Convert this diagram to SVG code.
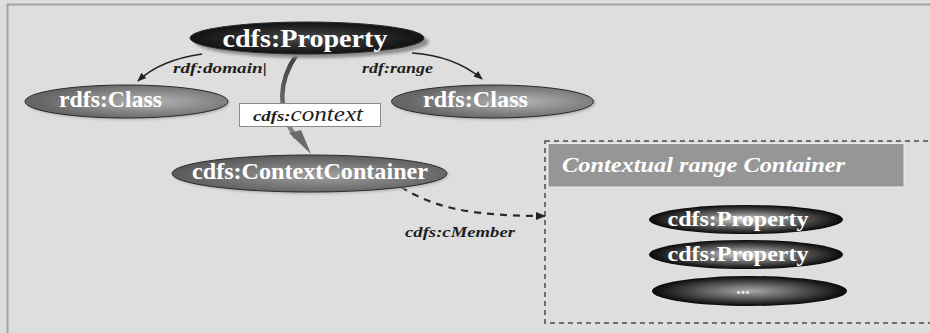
<svg xmlns="http://www.w3.org/2000/svg" width="930" height="333" viewBox="0 0 930 333" font-family="Liberation Serif, Times New Roman, serif">
  <style>
    .lbl { font-style: italic; font-weight: bold; fill: #1e1e1e; }
    .node-txt { font-weight: bold; fill: #ffffff; text-anchor: middle; }
    .edge { fill: none; stroke: #222; stroke-width: 1.6; }
    .outline { stroke: #2a2a2a; stroke-width: 1; }
  </style>
  <defs>
    <radialGradient id="gDark" cx="50%" cy="50%" r="55%">
      <stop offset="0" stop-color="#4a4a4a"/>
      <stop offset="1" stop-color="#0c0c0c"/>
    </radialGradient>
    <radialGradient id="gGray" cx="62%" cy="50%" r="55%">
      <stop offset="0" stop-color="#b4b4b4"/>
      <stop offset="1" stop-color="#666666"/>
    </radialGradient>
    <radialGradient id="gCC" cx="55%" cy="55%" r="55%">
      <stop offset="0" stop-color="#a0a0a0"/>
      <stop offset="1" stop-color="#5a5a5a"/>
    </radialGradient>
    <radialGradient id="gItem" cx="50%" cy="50%" r="50%">
      <stop offset="0" stop-color="#d4d4d4"/>
      <stop offset="0.5" stop-color="#6a6a6a"/>
      <stop offset="1" stop-color="#080808"/>
    </radialGradient>
    <radialGradient id="gItemDim" cx="50%" cy="50%" r="50%">
      <stop offset="0" stop-color="#a8a8a8"/>
      <stop offset="0.5" stop-color="#5a5a5a"/>
      <stop offset="1" stop-color="#080808"/>
    </radialGradient>
    <linearGradient id="gCtx" x1="0" y1="0" x2="0" y2="1">
      <stop offset="0" stop-color="#3c3c3c"/>
      <stop offset="1" stop-color="#8a8a8a"/>
    </linearGradient>
    <marker id="arrow" viewBox="0 0 10 10" refX="9" refY="5" markerWidth="9" markerHeight="9" markerUnits="userSpaceOnUse" orient="auto">
      <path d="M0,1 L10,5 L0,9 Z" fill="#222"/>
    </marker>
    <marker id="arrowWide" viewBox="0 0 10 10" refX="9" refY="5" markerWidth="10" markerHeight="10" markerUnits="userSpaceOnUse" orient="auto">
      <path d="M0,1 L10,5 L0,9 Z" fill="#222"/>
    </marker>
    <filter id="soft" x="-10%" y="-30%" width="120%" height="160%">
      <feGaussianBlur stdDeviation="1.5"/>
    </filter>
  </defs>

  <!-- canvas and frame -->
  <rect x="0" y="0" width="930" height="333" fill="#dedede"/>
  <path d="M7.5,333 V4.5 H930" fill="none" stroke="#a3a3a3" stroke-width="2"/>

  <!-- contextual range container frame -->
  <g id="range-container">
    <rect x="545" y="141" width="400" height="182" fill="none" stroke="#4a4a4a" stroke-width="1.5" stroke-dasharray="5,4"/>
    <rect x="548" y="143.5" width="356" height="43.5" fill="#969696" stroke="#ececec" stroke-width="1"/>
    <text x="562" y="172" font-style="italic" font-weight="bold" font-size="22" fill="#ffffff" textLength="283" lengthAdjust="spacingAndGlyphs">Contextual range Container</text>
  </g>

  <!-- connectors -->
  <g id="connectors">
    <path class="edge" d="M202,54 Q160,60 138,81" marker-end="url(#arrow)"/>
    <path class="edge" d="M412,53 Q455,56 482,79" marker-end="url(#arrow)"/>
    <path d="M297,54 Q268,96 296,138" fill="none" stroke="url(#gCtx)" stroke-width="4.5"/>
    <path d="M289,133 L311,154 L301,130 Z" fill="#6a6a6a"/>
    <path d="M401,187 C430,205 462,216 545,216" fill="none" stroke="#2a2a2a" stroke-width="2.2" stroke-dasharray="7,6" marker-end="url(#arrowWide)"/>
    <text class="lbl" x="173" y="73" font-size="15" textLength="94" lengthAdjust="spacingAndGlyphs">rdf:domain|</text>
    <text class="lbl" x="362" y="73" font-size="15" textLength="71" lengthAdjust="spacingAndGlyphs">rdf:range</text>
    <text class="lbl" x="405" y="237" font-size="15" textLength="110" lengthAdjust="spacingAndGlyphs">cdfs:cMember</text>
    <g id="context-label">
      <rect x="239.5" y="103.5" width="141" height="23" fill="#ffffff" stroke="#8a8a8a" stroke-width="1"/>
      <text x="253" y="121" font-style="italic" fill="#1e1e1e" textLength="110" lengthAdjust="spacingAndGlyphs"><tspan font-weight="bold" font-size="15">cdfs:</tspan><tspan font-size="20">context</tspan></text>
    </g>
  </g>

  <!-- cdfs:Property (top) -->
  <g id="property-main">
    <ellipse cx="312" cy="42" rx="117" ry="16" fill="#8c8c8c" filter="url(#soft)"/>
    <ellipse cx="307" cy="38" rx="117" ry="16" fill="url(#gDark)" class="outline"/>
    <text class="node-txt" x="305" y="47" font-size="25" textLength="165" lengthAdjust="spacingAndGlyphs">cdfs:Property</text>
  </g>

  <!-- rdfs:Class (domain) -->
  <g id="class-domain">
    <ellipse cx="128" cy="103" rx="101" ry="16.5" fill="#a9a9a9" filter="url(#soft)"/>
    <ellipse cx="126.5" cy="101.5" rx="101.5" ry="16.5" fill="url(#gGray)" class="outline"/>
    <text class="node-txt" x="110.5" y="107" font-size="24" textLength="103" lengthAdjust="spacingAndGlyphs">rdfs:Class</text>
  </g>

  <!-- rdfs:Class (range) -->
  <g id="class-range">
    <ellipse cx="494" cy="103" rx="101" ry="16.5" fill="#a9a9a9" filter="url(#soft)"/>
    <ellipse cx="492.5" cy="101.5" rx="101" ry="16.5" fill="url(#gGray)" class="outline"/>
    <text class="node-txt" x="475.5" y="107" font-size="24" textLength="105" lengthAdjust="spacingAndGlyphs">rdfs:Class</text>
  </g>

  <!-- cdfs:ContextContainer -->
  <g id="context-container">
    <ellipse cx="311" cy="175" rx="137" ry="18.5" fill="#a9a9a9" filter="url(#soft)"/>
    <ellipse cx="309.5" cy="173.5" rx="137.5" ry="18.5" fill="url(#gCC)" class="outline"/>
    <text class="node-txt" x="310" y="179" font-size="24" textLength="236" lengthAdjust="spacingAndGlyphs">cdfs:ContextContainer</text>
  </g>

  <!-- members of the range container -->
  <g id="member-1">
    <ellipse cx="746" cy="219.5" rx="97" ry="14.5" fill="url(#gItem)"/>
    <text class="node-txt" x="738" y="226" font-size="22" textLength="141" lengthAdjust="spacingAndGlyphs">cdfs:Property</text>
  </g>
  <g id="member-2">
    <ellipse cx="746" cy="254.5" rx="97" ry="14.5" fill="url(#gItem)"/>
    <text class="node-txt" x="738" y="261" font-size="22" textLength="141" lengthAdjust="spacingAndGlyphs">cdfs:Property</text>
  </g>
  <g id="member-3">
    <ellipse cx="749.5" cy="291" rx="97.5" ry="15" fill="url(#gItemDim)"/>
    <text class="node-txt" x="743" y="294" font-size="18" style="fill:#ececec">...</text>
  </g>
</svg>
